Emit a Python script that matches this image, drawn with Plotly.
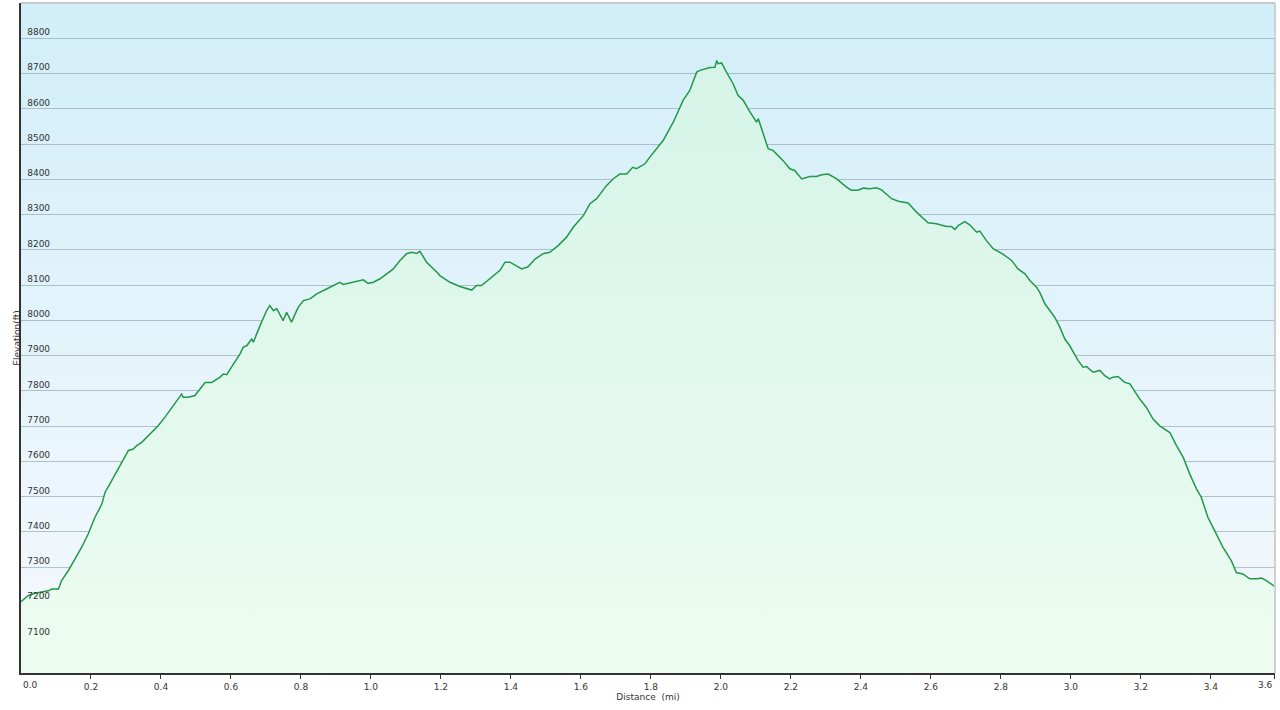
import plotly.graph_objects as go

distance_mi = [
    0.000, 0.020, 0.040, 0.078, 0.088, 0.107, 0.116, 0.135, 0.154, 0.173,
    0.192, 0.211, 0.231, 0.240, 0.254, 0.269, 0.288, 0.307, 0.321, 0.331,
    0.345, 0.364, 0.392, 0.411, 0.431, 0.449, 0.459, 0.464, 0.478, 0.497,
    0.511, 0.526, 0.545, 0.569, 0.578, 0.588, 0.607, 0.626, 0.635, 0.645,
    0.659, 0.664, 0.683, 0.702, 0.711, 0.721, 0.731, 0.749, 0.759, 0.773,
    0.792, 0.807, 0.826, 0.845, 0.873, 0.892, 0.911, 0.921, 0.949, 0.978,
    0.992, 1.007, 1.026, 1.045, 1.064, 1.083, 1.102, 1.116, 1.131, 1.140,
    1.159, 1.188, 1.197, 1.226, 1.254, 1.288, 1.302, 1.316, 1.340, 1.369,
    1.383, 1.397, 1.431, 1.449, 1.469, 1.492, 1.511, 1.535, 1.559, 1.578,
    1.607, 1.626, 1.645, 1.673, 1.692, 1.711, 1.731, 1.748, 1.759, 1.783,
    1.797, 1.816, 1.835, 1.864, 1.892, 1.911, 1.931, 1.940, 1.969, 1.983,
    1.988, 1.992, 2.002, 2.016, 2.035, 2.049, 2.064, 2.083, 2.102, 2.107,
    2.121, 2.135, 2.149, 2.178, 2.197, 2.211, 2.231, 2.254, 2.273, 2.288,
    2.307, 2.331, 2.359, 2.373, 2.392, 2.407, 2.426, 2.445, 2.459, 2.488,
    2.507, 2.535, 2.559, 2.573, 2.592, 2.616, 2.645, 2.659, 2.669, 2.678,
    2.697, 2.711, 2.731, 2.740, 2.759, 2.778, 2.807, 2.831, 2.849, 2.869,
    2.883, 2.902, 2.911, 2.926, 2.940, 2.954, 2.969, 2.983, 2.997, 3.021,
    3.035, 3.045, 3.064, 3.083, 3.097, 3.111, 3.121, 3.135, 3.154, 3.169,
    3.178, 3.197, 3.216, 3.235, 3.254, 3.269, 3.283, 3.302, 3.321, 3.340,
    3.359, 3.373, 3.392, 3.411, 3.435, 3.459, 3.473, 3.492, 3.511, 3.531,
    3.545, 3.559, 3.578, 3.583,
]
elevation_ft = [
    7202, 7219, 7226, 7233, 7238, 7238, 7262, 7290, 7323, 7356,
    7394, 7441, 7479, 7512, 7536, 7564, 7597, 7631, 7635, 7645,
    7654, 7673, 7701, 7725, 7753, 7777, 7791, 7782, 7782, 7787,
    7806, 7824, 7824, 7839, 7848, 7846, 7876, 7905, 7924, 7928,
    7947, 7938, 7985, 8028, 8042, 8028, 8033, 7999, 8023, 7995,
    8037, 8056, 8061, 8075, 8089, 8099, 8108, 8102, 8108, 8115,
    8105, 8108, 8118, 8132, 8146, 8170, 8189, 8193, 8190, 8196,
    8165, 8137, 8127, 8108, 8096, 8086, 8099, 8099, 8118, 8142,
    8165, 8165, 8146, 8152, 8174, 8189, 8193, 8212, 8236, 8264,
    8297, 8331, 8345, 8382, 8401, 8415, 8415, 8434, 8430, 8444,
    8463, 8487, 8510, 8562, 8624, 8652, 8704, 8709, 8717, 8718,
    8737, 8728, 8730, 8704, 8671, 8638, 8624, 8591, 8562, 8572,
    8529, 8487, 8482, 8453, 8430, 8425, 8401, 8408, 8408, 8413,
    8415, 8401, 8378, 8369, 8369, 8375, 8373, 8376, 8370, 8345,
    8338, 8333, 8307, 8293, 8277, 8274, 8266, 8266, 8258, 8269,
    8280, 8271, 8250, 8253, 8226, 8203, 8187, 8170, 8146, 8132,
    8113, 8094, 8080, 8047, 8028, 8009, 7980, 7947, 7928, 7886,
    7867, 7869, 7853, 7858, 7843, 7834, 7839, 7841, 7824, 7820,
    7806, 7777, 7753, 7720, 7701, 7692, 7682, 7645, 7612, 7564,
    7522, 7498, 7441, 7404, 7356, 7318, 7285, 7281, 7267, 7267,
    7269, 7262, 7247, 7245,
]

x_tick_vals = [0.0, 0.2, 0.4, 0.6, 0.8, 1.0, 1.2, 1.4, 1.6, 1.8,
               2.0, 2.2, 2.4, 2.6, 2.8, 3.0, 3.2, 3.4, 3.583]
x_tick_text = ["0.0", "0.2", "0.4", "0.6", "0.8", "1.0", "1.2", "1.4", "1.6", "1.8",
               "2.0", "2.2", "2.4", "2.6", "2.8", "3.0", "3.2", "3.4", "3.6"]
y_tick_vals = list(range(7100, 8900, 100))

X_RANGE = [0, 3.5835]
Y_RANGE = [7000, 8900]

FONT = "DejaVu Sans"
TXT = "#333333"

fig = go.Figure()

fig.add_trace(go.Scatter(
    x=distance_mi, y=elevation_ft,
    mode="lines",
    line=dict(color="#23974a", width=1.5),
    fill="tozeroy",
    fillgradient=dict(
        type="vertical",
        start=7000, stop=8750,
        colorscale=[[0, "rgb(237,252,241)"], [1, "rgb(213,244,232)"]],
    ),
    hoverinfo="skip",
    showlegend=False,
))

# background vertical gradient of the plotting area
shapes = []
n = 120
top = (209, 238, 249)
bot = (246, 249, 253)
for i in range(n):
    f0 = i / n
    f1 = (i + 1) / n
    fm = (f0 + f1) / 2
    c = tuple(round(bot[k] + (top[k] - bot[k]) * fm) for k in range(3))
    shapes.append(dict(
        type="rect", xref="x domain", yref="y domain",
        x0=0, x1=1, y0=f0, y1=f1 + 0.002,
        fillcolor="rgb(%d,%d,%d)" % c, line=dict(width=0), layer="below",
    ))
# light top / right border
shapes.append(dict(type="line", xref="x domain", yref="y domain",
                   x0=0, x1=1, y0=1, y1=1, line=dict(color="#c8c8c8", width=2)))
shapes.append(dict(type="line", xref="x domain", yref="y domain",
                   x0=1, x1=1, y0=0, y1=1, line=dict(color="#d0d0d0", width=2)))

# edge tick labels (aligned to the plot edges like the reference)
annotations = [
    dict(x=x_tick_vals[0], y=0, xref="x", yref="y domain", text=x_tick_text[0],
         showarrow=False, xanchor="left", yanchor="top", yshift=-5,
         font=dict(family=FONT, size=9, color=TXT)),
    dict(x=x_tick_vals[-1], y=0, xref="x", yref="y domain", text=x_tick_text[-1],
         showarrow=False, xanchor="right", yanchor="top", yshift=-5,
         font=dict(family=FONT, size=9, color=TXT)),
]
axis_tick_text = [""] + x_tick_text[1:-1] + [""]

fig.update_layout(
    width=1280, height=710,
    margin=dict(l=21, r=5, t=3, b=37),
    paper_bgcolor="white",
    plot_bgcolor="#f6f9fd",
    shapes=shapes,
    annotations=annotations,
    font=dict(family=FONT, size=9, color=TXT),
)

fig.update_xaxes(
    range=X_RANGE,
    tickmode="array", tickvals=x_tick_vals, ticktext=axis_tick_text,
    ticks="outside", ticklen=4, tickcolor=TXT, tickwidth=1,
    tickfont=dict(family=FONT, size=9, color=TXT),
    showgrid=False, zeroline=False,
    showline=True, linecolor=TXT, linewidth=1.5,
    title=dict(text="Distance  (mi)", font=dict(family=FONT, size=9, color=TXT), standoff=3),
    automargin=False,
)
fig.update_yaxes(
    range=Y_RANGE,
    tickmode="array", tickvals=y_tick_vals,
    ticklabelposition="inside top",
    ticklabelstandoff=4,
    ticks="",
    tickfont=dict(family=FONT, size=9, color=TXT),
    showgrid=True, gridcolor="rgba(130,150,160,0.55)", gridwidth=1,
    zeroline=False,
    showline=True, linecolor=TXT, linewidth=2,
    title=dict(text="Elevation(ft)", font=dict(family=FONT, size=9, color=TXT), standoff=5),
    automargin=False,
)

fig.write_html("out.html", config={"displayModeBar": False},
               post_script="document.body.style.margin='0';")
